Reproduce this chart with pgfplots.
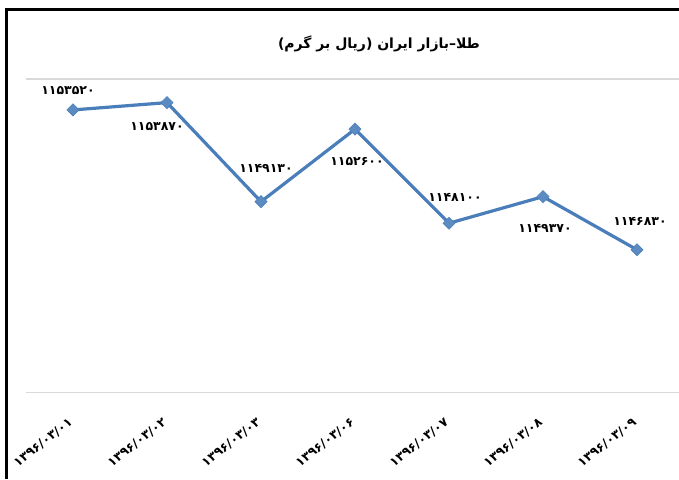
\documentclass[border=0pt]{standalone}
\usepackage{pgfplots}
\pgfplotsset{compat=1.18}
\usepackage{fontspec}
\setmainfont{DejaVu Sans}
\newfontfamily\arabicfont[Script=Arabic]{DejaVu Sans}
\newfontfamily\numfont{DejaVu Sans}
\TeXXeTstate=1
\definecolor{serblue}{HTML}{4A7EBB}
\definecolor{gridgray}{HTML}{D9D9D9}
\begin{document}
\begin{tikzpicture}[x=1pt,y=1pt]
\useasboundingbox (0,0) rectangle (679,479);
\clip (0,0) rectangle (679,479);
\fill[white] (0,0) rectangle (679,479);
\begin{axis}[
  at={(26pt,86.5pt)}, anchor=south west,
  scale only axis, width=658pt, height=313.5pt,
  xmin=-0.5, xmax=6.5, ymin=1140000, ymax=1155000,
  scaled y ticks=false,
  axis line style={draw=none},
  tick style={draw=none},
  ytick={1140000,1155000}, yticklabels={},
  ymajorgrids, grid style={gridgray, line width=1.2pt},
  xtick={0,...,6},
  xticklabels={
    {\numfont\bfseries ۱۳۹۶/۰۳/۰۱},
    {\numfont\bfseries ۱۳۹۶/۰۳/۰۲},
    {\numfont\bfseries ۱۳۹۶/۰۳/۰۳},
    {\numfont\bfseries ۱۳۹۶/۰۳/۰۶},
    {\numfont\bfseries ۱۳۹۶/۰۳/۰۷},
    {\numfont\bfseries ۱۳۹۶/۰۳/۰۸},
    {\numfont\bfseries ۱۳۹۶/۰۳/۰۹}},
  xticklabel style={rotate=38, anchor=east, font=\fontsize{12.5}{14}\selectfont, yshift=-21pt, xshift=-19pt, inner sep=0pt},
  clip=false,
  nodes near coords={\pgfplotspointmeta},
  nodes near coords style={text=black, font=\numfont\bfseries\fontsize{12.5}{14}\selectfont, anchor=center, inner sep=0pt, xshift=\mydx pt, yshift=\mydy pt},
  visualization depends on={\thisrow{dy} \as \mydy},
  visualization depends on={\thisrow{dx} \as \mydx},
]
\addplot[serblue, line width=3.2pt, mark=square*, mark size=4.3pt,
  mark options={rotate=45, fill=serblue!90!white, draw=serblue, line width=0.5pt},
  point meta=explicit symbolic]
  table[x=x, y=y, meta=lab] {
x y dx dy lab
0 1153520 -5 19 ۱۱۵۳۵۲۰
1 1153870 -10 -24 ۱۱۵۳۸۷۰
2 1149130 5 33 ۱۱۴۹۱۳۰
3 1152600 2 -32 ۱۱۵۲۶۰۰
4 1148100 6 26 ۱۱۴۸۱۰۰
5 1149370 2 -32 ۱۱۴۹۳۷۰
6 1146830 3 28 ۱۱۴۶۸۳۰
};
\end{axis}
\draw[line width=3pt, black] (6.5,0) -- (6.5,469.5) -- (679,469.5);
\node[font=\arabicfont\bfseries\fontsize{14}{16}\selectfont, inner sep=0pt] at (379,435) {\beginR طلا–بازار ایران (ریال بر گرم)\endR};
\end{tikzpicture}
\end{document}
